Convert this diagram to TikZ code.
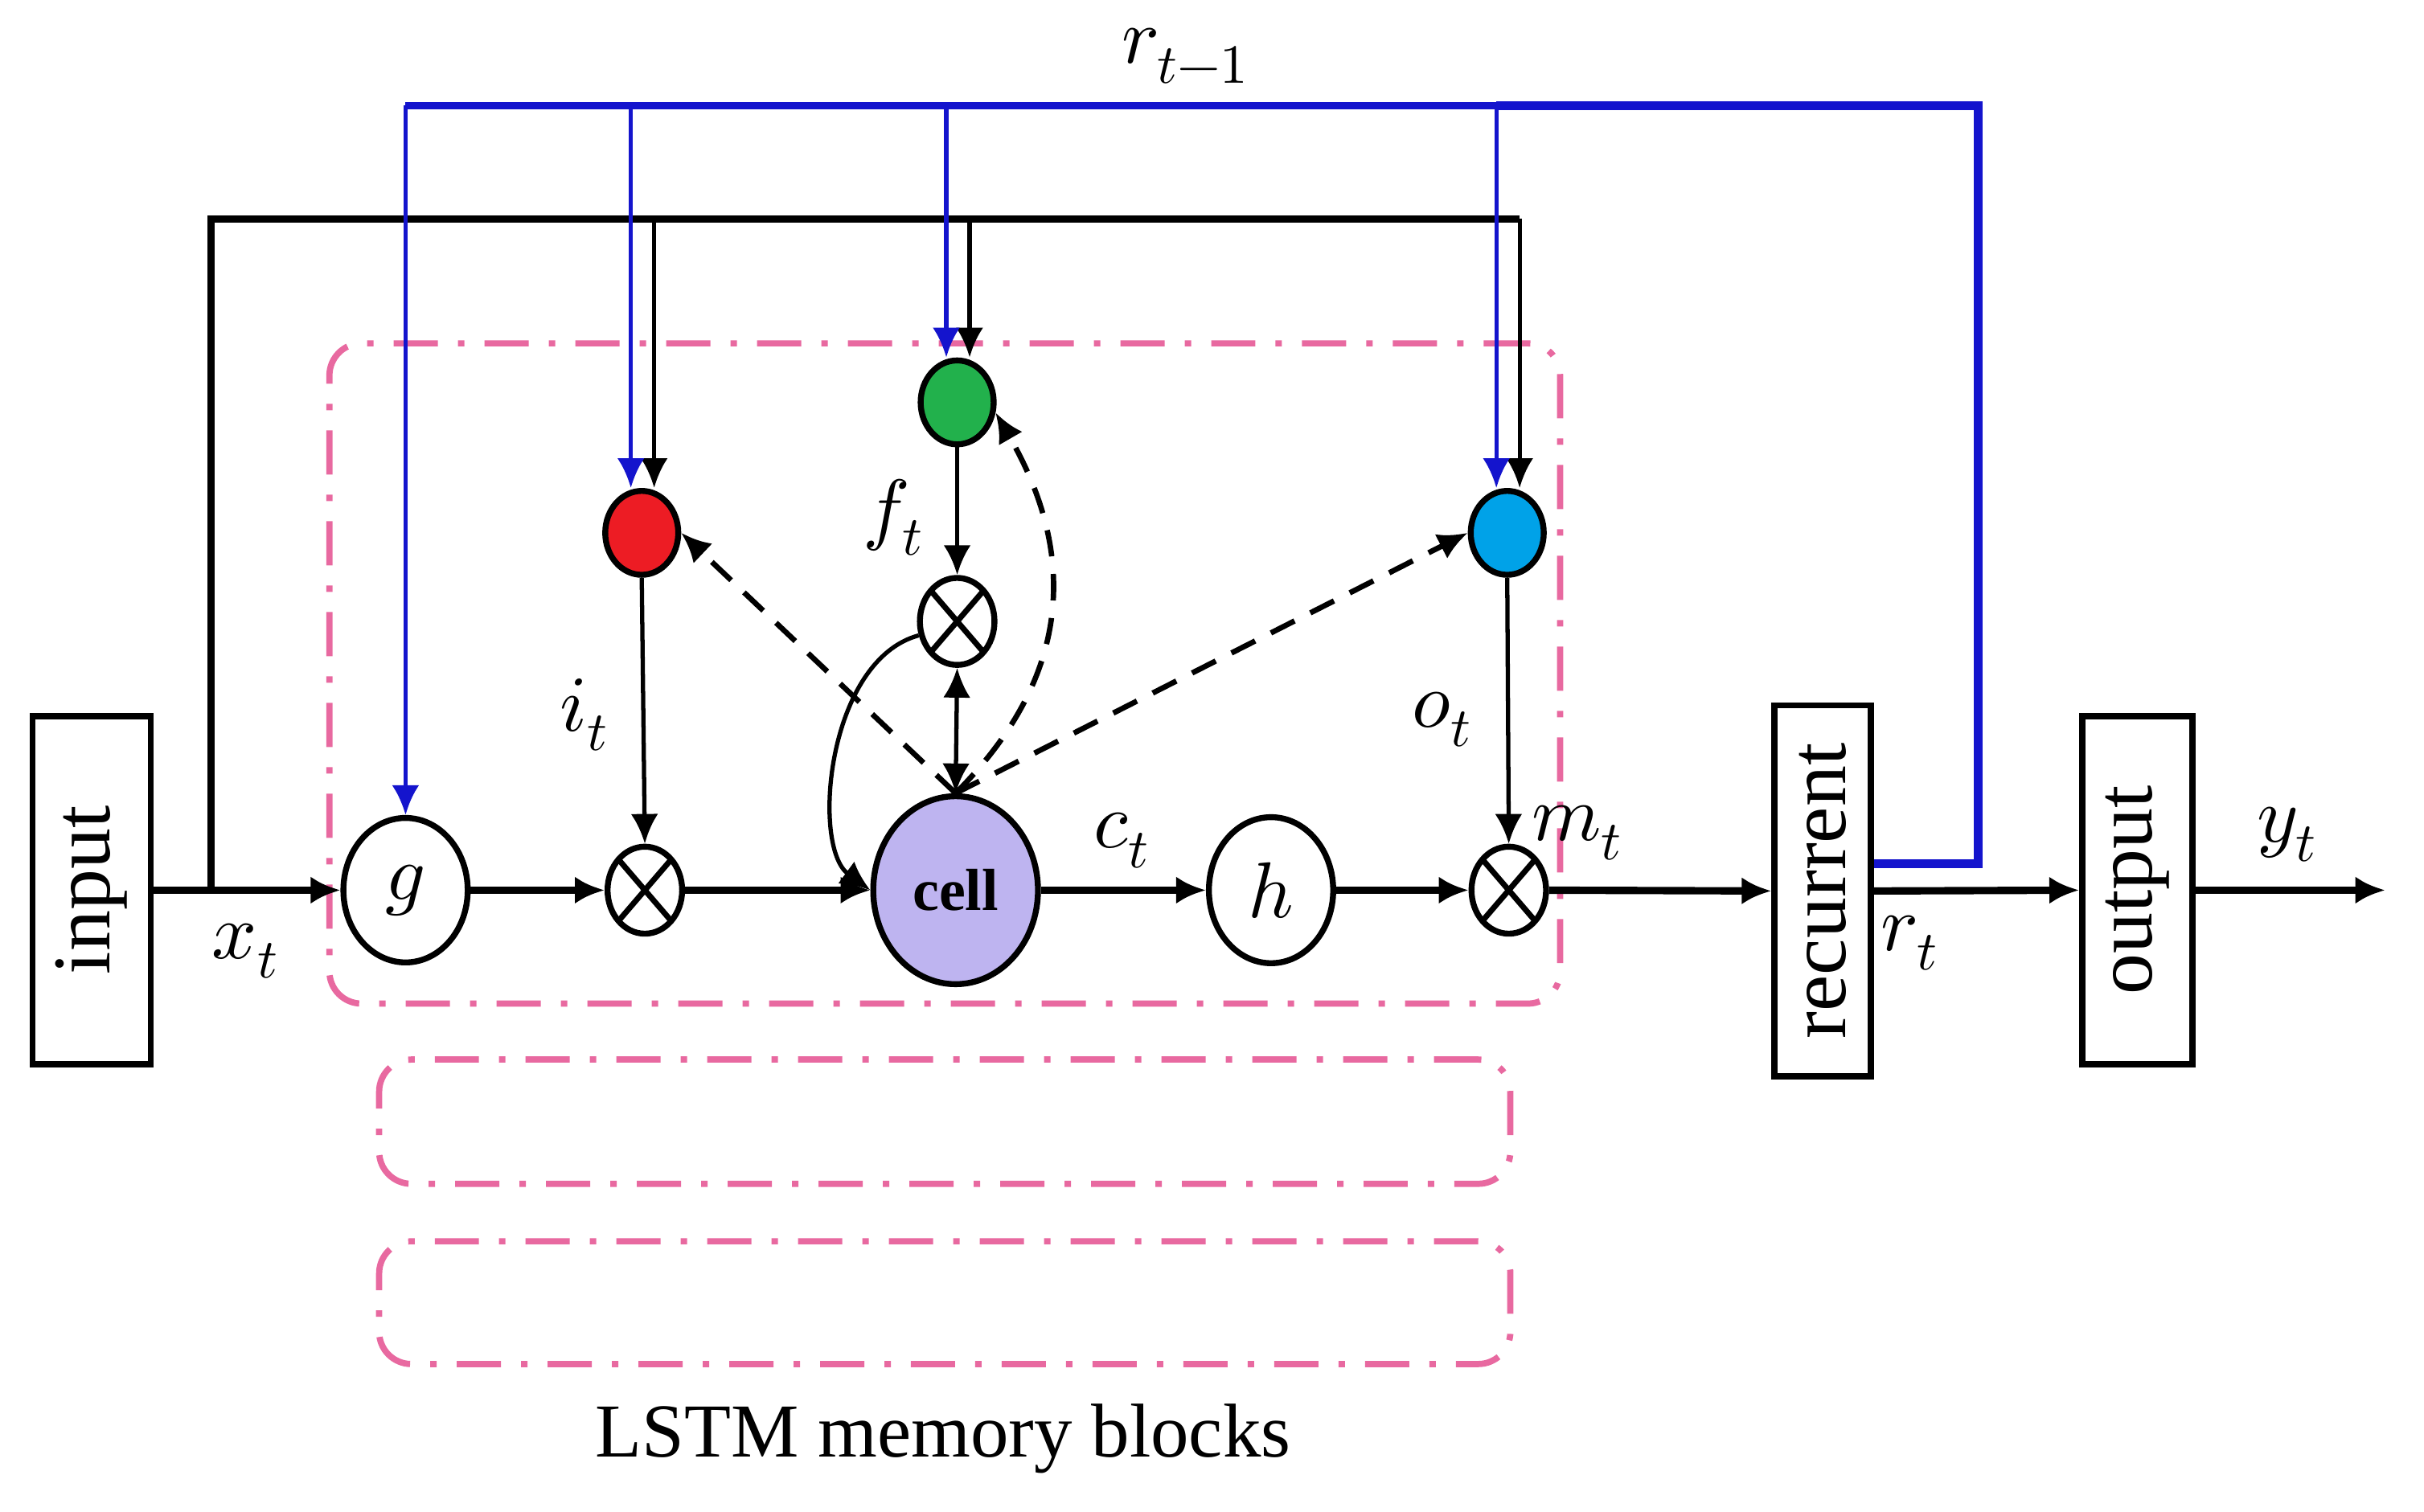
\documentclass[tikz,border=0pt]{standalone}
\usepackage{fontspec}
\usepackage{unicode-math}
\setmainfont{Liberation Serif}
\usetikzlibrary{arrows.meta,shapes.geometric}
\definecolor{pinkline}{RGB}{232,105,160}
\definecolor{bluel}{RGB}{20,20,205}
\definecolor{gred}{RGB}{237,28,36}
\definecolor{ggreen}{RGB}{34,177,76}
\definecolor{gcyan}{RGB}{0,162,232}
\definecolor{cellfill}{RGB}{190,180,240}
\newlength\pxu
\setlength\pxu{0.1933mm}
\newcommand\lblfont{\fontsize{28}{32}\selectfont}
\newcommand\boxfont{\fontsize{29}{33}\selectfont}
\tikzset{
  tip/.tip={Latex[length=3.7mm,width=3.4mm]},
  box/.style={draw, line width=2.2pt, inner sep=0pt, font=\boxfont},
  oval/.style={draw, ellipse, line width=2.1pt, inner sep=0pt, font=\lblfont},
  gate/.style={oval, minimum width=47*\pxu, minimum height=54*\pxu},
  ox/.style={oval, minimum width=48*\pxu, minimum height=56*\pxu,
    path picture={\draw[line width=2pt]
      (path picture bounding box.south west) -- (path picture bounding box.north east)
      (path picture bounding box.north west) -- (path picture bounding box.south east);}},
  pinkbox/.style={draw=pinkline, line width=2.2pt, rounded corners=4mm,
    dash pattern=on 5.5mm off 2.5mm on 0.8mm off 2.5mm, inner sep=0pt},
  mainline/.style={line width=2.6pt, -tip},
  bus/.style={line width=2.5pt},
  tap/.style={line width=1.5pt, -tip},
  bluebus/.style={draw=bluel, line width=2.4pt},
  bluetap/.style={draw=bluel, line width=1.5pt, -tip},
  peep/.style={line width=1.9pt, dash pattern=on 3.3mm off 2.2mm, -tip},
  lbl/.style={font=\lblfont, inner sep=0pt},
}
\begin{document}
\begin{tikzpicture}[x=\pxu, y=\pxu]
\useasboundingbox (0,0) rectangle (1560,-973);

% memory blocks
\node[pinkbox, minimum width=792*\pxu, minimum height=425*\pxu] (blk1) at (608,-433.5) {};
\node[pinkbox, minimum width=728*\pxu, minimum height=80*\pxu] (blk2) at (608,-722) {};
\node[pinkbox, minimum width=728*\pxu, minimum height=79*\pxu] (blk3) at (608,-838.5) {};
\node[font=\fontsize{27}{31}\selectfont, anchor=base] (lstm) at (607,-938) {LSTM memory blocks};

% boxes
\node[box, minimum width=76*\pxu, minimum height=224*\pxu] (input) at (59,-573) {\rotatebox{90}{input}};
\node[box, minimum width=62*\pxu, minimum height=239*\pxu] (rec) at (1173,-573.5) {\rotatebox{90}{recurrent}};
\node[box, minimum width=71*\pxu, minimum height=224*\pxu] (out) at (1375.5,-573) {\rotatebox{90}{output}};

% main path nodes
\node[oval, minimum width=80*\pxu, minimum height=93*\pxu] (g) at (261,-573) {$g$};
\node[ox] (xi) at (415,-573) {};
\node[oval, fill=cellfill, minimum width=106*\pxu, minimum height=121*\pxu,
      font=\bfseries\fontsize{21}{24}\selectfont] (cell) at (615,-573) {cell};
\node[oval, minimum width=80*\pxu, minimum height=94*\pxu] (h) at (818,-573) {$h$};
\node[ox] (xo) at (971,-573) {};
\node[ox] (xf) at (616,-400) {};

% gates
\node[gate, fill=gred] (gi) at (413,-343) {};
\node[gate, fill=ggreen] (gf) at (616,-259) {};
\node[gate, fill=gcyan] (go) at (970,-343) {};

% coordinates
\coordinate (jn) at (136,-573);
\coordinate (ktl) at (136,-141);
\coordinate (ktr) at (978,-141);
\coordinate (ki) at (421,-141);
\coordinate (kf) at (624,-141);
\coordinate (btl) at (261,-68);
\coordinate (bi) at (406,-68);
\coordinate (bf) at (609,-68);
\coordinate (bo) at (963,-68);
\coordinate (btr) at (1273,-68);
\coordinate (bbr) at (1273,-556);
\coordinate (yend) at (1535,-573);

% main line
\draw[mainline] (input.east) -- (g.west);
\draw[mainline] (g.east) -- (xi.west);
\draw[mainline] (xi.east) -- (cell.west);
\draw[mainline] (cell.east) -- (h.west);
\draw[mainline] (h.east) -- (xo.west);
\draw[mainline] (xo.east) -- (rec.west);
\draw[mainline] (rec.east) -- (out.west);
\draw[mainline] (out.east) -- (yend);

% black input bus
\draw[bus] (jn) -- (ktl) -- (ktr);
\draw[tap] (ktr) -- (ktr |- go.north);
\draw[tap] (ki) -- (ki |- gi.north);
\draw[tap] (kf) -- (kf |- gf.north);

% blue recurrent bus
\draw[bluebus, line width=3pt] (rec.east |- bbr) -- (bbr) -- (btr) -- (bo);
\draw[bluebus] (bo) -- (btl);
\draw[bluetap] (btl) -- (g.north);
\draw[bluetap] (bi) -- (bi |- gi.north);
\draw[bluetap] (bf) -- (bf |- gf.north);
\draw[bluetap] (bo) -- (bo |- go.north);

% gate outputs
\draw[tap] (gi.south) -- (xi.north);
\draw[tap] (gf.south) -- (xf.north);
\draw[tap] (go.south) -- (xo.north);
\draw[line width=1.5pt, tip-tip] (xf.south) -- (cell.north);
\draw[tap] (xf.200) .. controls (532,-425) and (522,-545) .. (cell.west);

% peepholes
\draw[peep] (cell.north) -- (gi.east);
\draw[peep] (cell.north) -- (go.west);
\draw[peep] (cell.north) to[out=45, in=-60, looseness=1.1] (gf.-15);

% labels
\node[lbl] (lrt1) at (763,-36) {$r_{t-1}$};
\node[lbl] (lxt) at (158,-612) {$x_t$};
\node[lbl] (lit) at (376,-460) {$i_t$};
\node[lbl] (lft) at (575,-333) {$f_t$};
\node[lbl] (lct) at (722,-541) {$c_t$};
\node[lbl] (lot) at (928,-463) {$o_t$};
\node[lbl] (lmt) at (1015,-536) {$m_t$};
\node[lbl] (lrt) at (1229,-607) {$r_t$};
\node[lbl] (lyt) at (1472,-537) {$y_t$};
\end{tikzpicture}
\end{document}
